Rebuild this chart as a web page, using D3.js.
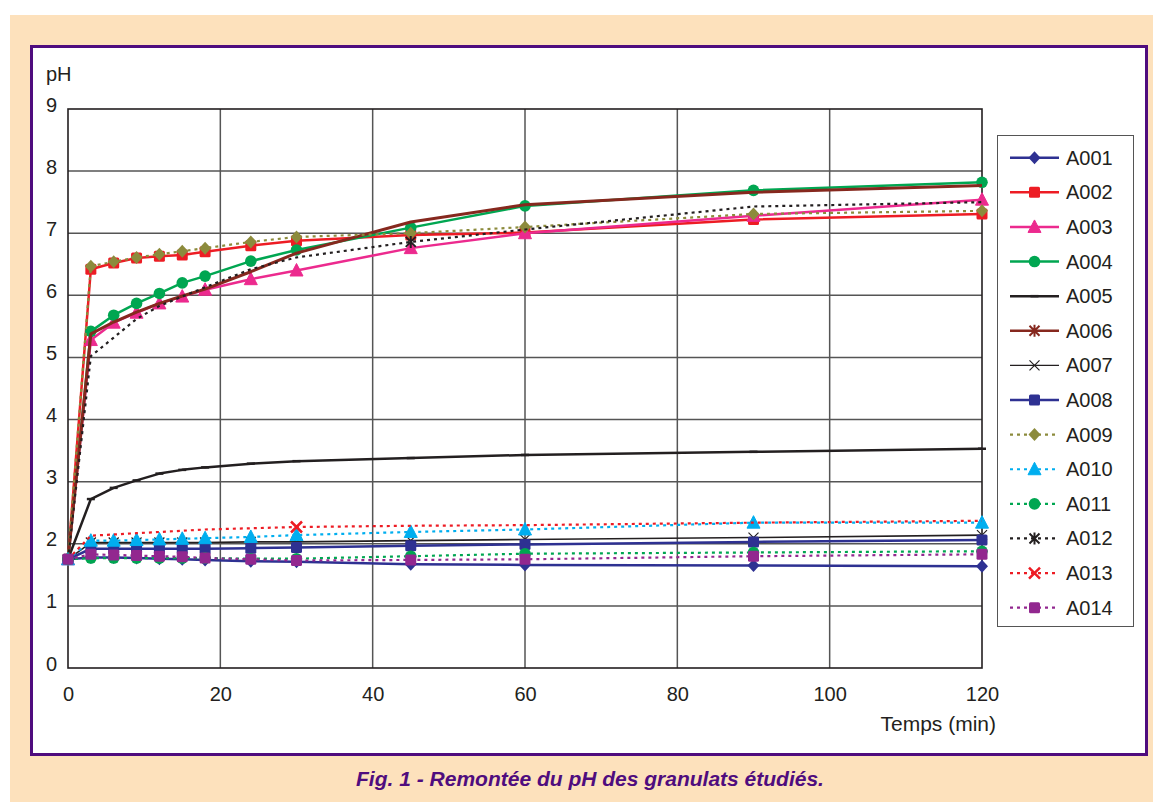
<!DOCTYPE html>
<html><head><meta charset="utf-8">
<script src="https://cdn.jsdelivr.net/npm/d3@7"></script>
<style>
body{margin:0;background:#fff}
svg{display:block}
text{font-family:"Liberation Sans",Arial,sans-serif;fill:#231F20}
</style>
</head><body>
<svg id="chart" width="1153" height="802"></svg>
<script>
// ---------- DATA ----------
const times = [0, 3, 6, 9, 12, 15, 18, 24, 30, 45, 60, 90, 120];
const A001 = [1.75,1.78,1.78,1.77,1.76,1.75,1.74,1.72,1.71,1.67,1.66,1.65,1.64];
const A002 = [1.75,6.42,6.52,6.60,6.63,6.65,6.70,6.80,6.88,6.97,7.01,7.22,7.31];
const A003 = [1.75,5.28,5.56,5.72,5.87,5.98,6.09,6.26,6.40,6.76,7.00,7.28,7.54];
const A004 = [1.75,5.42,5.68,5.87,6.03,6.20,6.31,6.55,6.73,7.09,7.44,7.69,7.82];
const A005 = [1.75,2.72,2.90,3.02,3.13,3.19,3.23,3.29,3.33,3.38,3.43,3.48,3.53];
const A006 = [1.75,5.38,5.57,5.73,5.87,5.99,6.10,6.38,6.68,7.18,7.46,7.66,7.77];
const A007 = [1.75,2.02,2.02,2.02,2.02,2.02,2.02,2.03,2.03,2.05,2.07,2.10,2.14];
const A008 = [1.75,1.92,1.92,1.92,1.92,1.92,1.92,1.93,1.94,1.97,1.99,2.03,2.06];
const A009 = [1.75,6.47,6.54,6.61,6.66,6.71,6.76,6.86,6.94,7.00,7.10,7.31,7.36];
const A010 = [1.75,2.05,2.05,2.06,2.07,2.08,2.09,2.11,2.14,2.19,2.23,2.34,2.34];
const A011 = [1.75,1.77,1.77,1.77,1.77,1.77,1.77,1.76,1.76,1.80,1.84,1.86,1.88];
const A012 = [1.75,5.02,5.32,5.62,5.83,5.98,6.13,6.42,6.61,6.86,7.06,7.43,7.50];
const A013 = [1.75,2.13,2.15,2.17,2.19,2.21,2.23,2.25,2.27,2.29,2.30,2.34,2.37];
const A014 = [1.75,1.83,1.82,1.81,1.80,1.79,1.77,1.75,1.73,1.74,1.75,1.80,1.83];

const seriesNames = ["A001","A002","A003","A004","A005","A006","A007","A008","A009","A010","A011","A012","A013","A014"];
const seriesValues = [A001,A002,A003,A004,A005,A006,A007,A008,A009,A010,A011,A012,A013,A014];
const xTicks = [0, 20, 40, 60, 80, 100, 120];
const yTicks = [0, 1, 2, 3, 4, 5, 6, 7, 8, 9];
const yTitle = "pH";
const xTitle = "Temps (min)";
const caption = "Fig. 1 - Remontée du pH des granulats étudiés.";

// ---------- STYLES ----------
const styles = {
  A001:{color:"#2E3192", dash:null, width:2.5, marker:"diamond"},
  A002:{color:"#ED1C24", dash:null, width:2.5, marker:"square"},
  A003:{color:"#EC2A8E", dash:null, width:2.5, marker:"triangle"},
  A004:{color:"#00A651", dash:null, width:2.5, marker:"circle"},
  A005:{color:"#231F20", dash:null, width:2.5, marker:"dash"},
  A006:{color:"#86281E", dash:null, width:3,   marker:"asterisk", shownAt:[]},
  A007:{color:"#231F20", dash:null, width:1.6, marker:"cross"},
  A008:{color:"#2E3192", dash:null, width:2.5, marker:"square"},
  A009:{color:"#8C8B3C", dash:"3,4", width:2.2, marker:"diamond"},
  A010:{color:"#00AEEF", dash:"3,4", width:2.2, marker:"triangle"},
  A011:{color:"#00A651", dash:"3,4", width:2.2, marker:"circle"},
  A012:{color:"#231F20", dash:"3,4", width:2.2, marker:"asterisk", shownAt:[45]},
  A013:{color:"#ED1C24", dash:"3,4", width:2.2, marker:"xbold", shownAt:[30]},
  A014:{color:"#92278F", dash:"3,4", width:2.2, marker:"square"}
};

// ---------- LAYOUT ----------
const svg = d3.select("#chart");
svg.append("rect").attr("x",10).attr("y",15).attr("width",1143).attr("height",787).attr("fill","#FDE1BC");
svg.append("rect").attr("x",31.5).attr("y",46.5).attr("width",1115).attr("height",708)
  .attr("fill","#fff").attr("stroke","#4F0C7E").attr("stroke-width",3);

const x = d3.scaleLinear().domain([0,120]).range([68,982]);
const y = d3.scaleLinear().domain([0,9]).range([668,109]);

const g = svg.append("g");
// gridlines
g.selectAll(".hg").data(yTicks.slice(1,-1)).join("line")
  .attr("x1",x(0)).attr("x2",x(120)).attr("y1",d=>y(d)).attr("y2",d=>y(d))
  .attr("stroke","#555").attr("stroke-width",1.5);
g.selectAll(".vg").data(xTicks.slice(1,-1)).join("line")
  .attr("y1",y(0)).attr("y2",y(9)).attr("x1",d=>x(d)).attr("x2",d=>x(d))
  .attr("stroke","#555").attr("stroke-width",1.5);
g.append("rect").attr("x",x(0)).attr("y",y(9)).attr("width",x(120)-x(0)).attr("height",y(0)-y(9))
  .attr("fill","none").attr("stroke","#231F20").attr("stroke-width",1.6);

// axes via d3 axis generators (labels only)
const yAxis = d3.axisLeft(y).tickValues(yTicks).tickSize(0).tickPadding(11).tickFormat(d3.format("d"));
const yA = svg.append("g").attr("transform",`translate(${x(0)},0)`).call(yAxis);
yA.select(".domain").remove();
yA.selectAll("text").attr("font-size",20).attr("dy","0.1em").attr("fill","#231F20")
  .style("font-family",'"Liberation Sans",Arial,sans-serif');
const xAxis = d3.axisBottom(x).tickValues(xTicks).tickSize(0).tickPadding(19).tickFormat(d3.format("d"));
const xA = svg.append("g").attr("transform",`translate(0,${y(0)})`).call(xAxis);
xA.select(".domain").remove();
xA.selectAll("text").attr("font-size",20).attr("fill","#231F20")
  .style("font-family",'"Liberation Sans",Arial,sans-serif');

svg.append("text").attr("x",46).attr("y",81).attr("font-size",20).text(yTitle);
svg.append("text").attr("x",996).attr("y",731).attr("text-anchor","end").attr("font-size",21).text(xTitle);
svg.append("text").attr("x",590).attr("y",786).attr("text-anchor","middle")
  .attr("font-size",21).attr("font-weight","bold").attr("font-style","italic")
  .style("fill","#4F0C7E").text(caption);

// ---------- MARKERS ----------
function drawMarker(sel, type, color, cx, cy){
  const m = sel.append("g").attr("transform",`translate(${cx},${cy})`);
  switch(type){
    case "diamond":
      m.append("path").attr("d","M0,-6.5L6,0L0,6.5L-6,0Z").attr("fill",color); break;
    case "square":
      m.append("rect").attr("x",-5.5).attr("y",-5.5).attr("width",11).attr("height",11).attr("rx",1.5).attr("fill",color); break;
    case "triangle":
      m.append("path").attr("d","M0,-7L6.5,5.5L-6.5,5.5Z").attr("fill",color).attr("stroke",color).attr("stroke-width",1).attr("stroke-linejoin","round"); break;
    case "circle":
      m.append("circle").attr("r",5.8).attr("fill",color); break;
    case "dash":
      m.append("line").attr("x1",-4).attr("x2",4).attr("stroke",color).attr("stroke-width",2.5); break;
    case "cross":
      m.append("path").attr("d","M-5,-5L5,5M-5,5L5,-5").attr("stroke",color).attr("stroke-width",1.2); break;
    case "xbold":
      m.append("path").attr("d","M-5.5,-5.5L5.5,5.5M-5.5,5.5L5.5,-5.5").attr("stroke",color).attr("stroke-width",2.5); break;
    case "asterisk":
      m.append("path").attr("d","M-5,-5L5,5M-5,5L5,-5M0,-6L0,6").attr("stroke",color).attr("stroke-width",2); break;
  }
}

// ---------- SERIES ----------
const line = d3.line().x(d=>x(d.t)).y(d=>y(d.v));
const plot = svg.append("g");
seriesNames.forEach((name,i)=>{
  const st = styles[name];
  const pts = times.map((t,j)=>({t, v: seriesValues[i][j]}));
  const sg = plot.append("g");
  sg.append("path").datum(pts).attr("d",line).attr("fill","none")
    .attr("stroke",st.color).attr("stroke-width",st.width)
    .attr("stroke-dasharray",st.dash).attr("stroke-linejoin","round");
  pts.forEach(p=>{
    if (st.shownAt && !st.shownAt.includes(p.t)) return;
    drawMarker(sg, st.marker, st.color, x(p.t), y(p.v));
  });
});

// ---------- LEGEND ----------
const lg = svg.append("g");
lg.append("rect").attr("x",997.5).attr("y",135.5).attr("width",136).attr("height",491)
  .attr("fill","#fff").attr("stroke","#555").attr("stroke-width",1);
const ly = d3.scalePoint().domain(seriesNames).range([157.7, 607.7]);
seriesNames.forEach(name=>{
  const st = styles[name];
  const yy = ly(name);
  lg.append("line").attr("x1",1010).attr("x2",1059).attr("y1",yy).attr("y2",yy)
    .attr("stroke",st.color).attr("stroke-width",st.dash?2.2:(name==="A007"?1.2:2.5))
    .attr("stroke-dasharray",st.dash);
  drawMarker(lg, st.marker, st.color, 1034.5, yy);
  lg.append("text").attr("x",1066).attr("y",yy+7).attr("font-size",20).text(name);
});
</script>
</body></html>
